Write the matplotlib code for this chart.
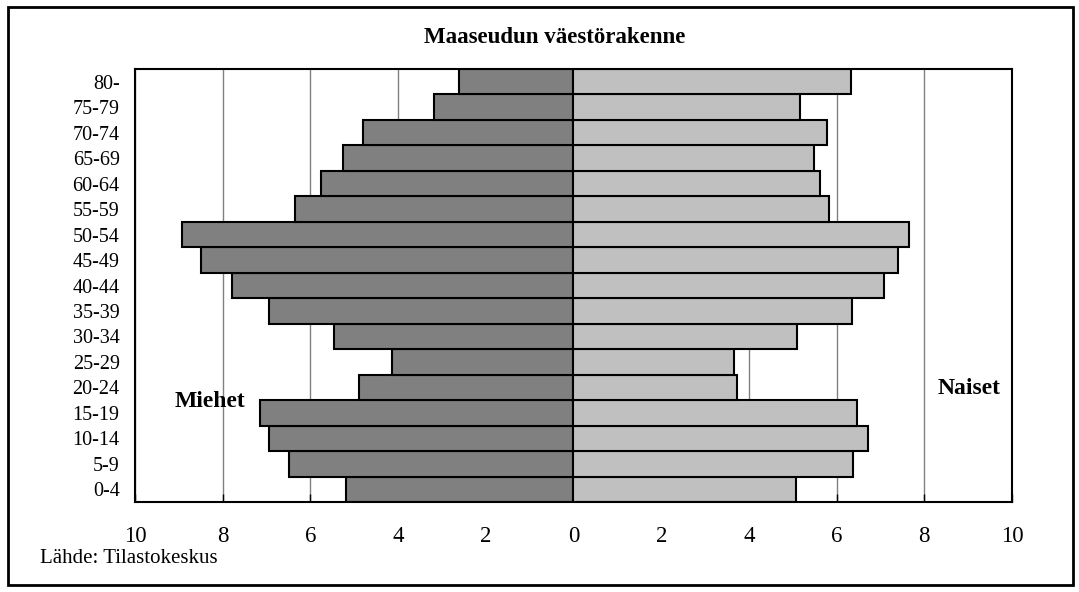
import matplotlib
matplotlib.use("Agg")
import matplotlib.pyplot as plt
from matplotlib.patches import Rectangle

plt.rcParams["font.family"] = ["Liberation Serif", "DejaVu Serif"]

# Age groups from youngest (bottom) to oldest (top)
age_groups = ["0-4", "5-9", "10-14", "15-19", "20-24", "25-29", "30-34", "35-39",
              "40-44", "45-49", "50-54", "55-59", "60-64", "65-69", "70-74",
              "75-79", "80-"]
men = [5.19, 6.48, 6.94, 7.15, 4.90, 4.13, 5.47, 6.94,
       7.78, 8.50, 8.92, 6.35, 5.75, 5.25, 4.79, 3.18, 2.62]
women = [5.07, 6.37, 6.71, 6.46, 3.72, 3.67, 5.09, 6.36,
         7.09, 7.39, 7.65, 5.82, 5.62, 5.49, 5.79, 5.17, 6.33]
x_ticks = [-10, -8, -6, -4, -2, 0, 2, 4, 6, 8, 10]

fig = plt.figure(figsize=(10.79, 5.92), dpi=100)
ax = fig.add_axes([0.1251, 0.152, 0.8128, 0.7314])

pos = range(len(age_groups))
ax.barh(pos, [-v for v in men], height=1.0, color="#808080",
        edgecolor="black", linewidth=1.5, zorder=2)
ax.barh(pos, women, height=1.0, color="#c0c0c0",
        edgecolor="black", linewidth=1.5, zorder=2)

ax.set_xlim(-10, 10)
ax.set_ylim(-0.5, len(age_groups) - 0.5)
ax.set_yticks(list(pos))
ax.set_yticklabels(age_groups, fontsize=14.5)
ax.set_xticks(x_ticks)
ax.set_xticklabels([str(abs(t)) for t in x_ticks], fontsize=16.5)
ax.tick_params(axis="y", length=0, pad=11)
ax.tick_params(axis="x", direction="in", length=6, width=1, pad=17)

ax.grid(axis="x", color="#808080", linewidth=1, zorder=0)
ax.set_axisbelow(True)
for s in ax.spines.values():
    s.set_linewidth(1.5)
    s.set_color("black")

ax.text(-8.3, 3.43, "Miehet", fontsize=17, fontweight="bold",
        ha="center", va="center", zorder=3)
ax.text(9.03, 3.94, "Naiset", fontsize=17, fontweight="bold",
        ha="center", va="center", zorder=3)

fig.text(0.514, 0.936, "Maaseudun väestörakenne", fontsize=16.5,
         fontweight="bold", ha="center", va="center")
fig.text(0.037, 0.056, "Lähde: Tilastokeskus", fontsize=15,
         ha="left", va="center")

# Outer chart border
fig.add_artist(Rectangle((8 / 1079, 1 - 585 / 592), 1065 / 1079, 578 / 592,
                         transform=fig.transFigure, fill=False,
                         edgecolor="black", linewidth=2))

fig.savefig("out.png", dpi=100)
